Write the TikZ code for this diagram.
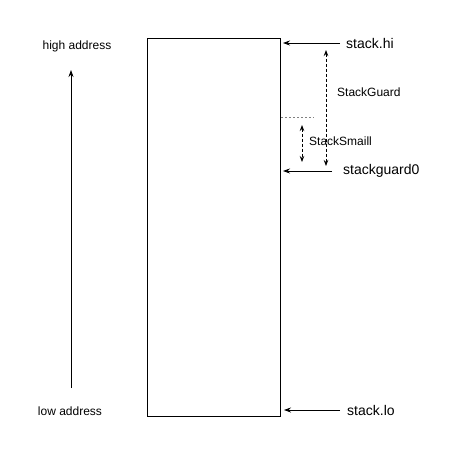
\documentclass[tikz,border=0pt]{standalone}
\usepackage{fontspec}
\setmainfont{Liberation Sans}
\usetikzlibrary{arrows.meta,positioning,calc}

\tikzset{
    ptr/.style={-{Stealth[length=7pt,width=5pt]}, line width=0.8pt},
    guard/.style={{Stealth[length=6pt,width=4.5pt]}-{Stealth[length=6pt,width=4.5pt]}, dashed, line width=0.8pt, dash pattern=on 3pt off 2pt},
    lbl/.style={inner sep=0pt, anchor=west, font=\fontsize{14}{16}\selectfont},
    small/.style={inner sep=0pt, font=\fontsize{12}{14}\selectfont}
}

\begin{document}
\begin{tikzpicture}[x=1pt, y=-1pt]
    \useasboundingbox (0,0) rectangle (450,463);

    % Stack
    \node[draw, line width=0.8pt, minimum width=133pt, minimum height=378pt, inner sep=0pt] (stack) at (213.5,227) {};

    % Labels on the right
    \node[lbl] (hi) at (346,43) {stack.hi};
    \node[lbl] (sg0) at (343,171) {stackguard0};
    \node[lbl] (lo) at (347,410) {stack.lo};

    \coordinate (hiend) at (283,43);
    \coordinate (sg0end) at (283,171);
    \coordinate (loend) at (284,410);

    \draw[ptr] ($(hi.west)+(-6,0)$) -- (hiend);
    \draw[ptr] ($(sg0.west)+(-11,0)$) -- (sg0end);
    \draw[ptr] ($(lo.west)+(-7,0)$) -- (loend);

    % Guard regions
    \coordinate (limit) at (281,117);
    \draw[gray, dashed, dash pattern=on 2pt off 2pt, line width=0.6pt] (limit) -- ++(33,0);
    \draw[guard] (326,50) -- (326,166);
    \node[small, anchor=west] (guard) at (337,92) {StackGuard};
    \draw[guard] (302,125) -- (302,162);
    \node[small, anchor=west] (small) at (309,141) {StackSmaill};

    % Address direction
    \node[small] (high) at (77,46) {high address};
    \node[small] (low) at (70,411) {low address};
    \draw[ptr] (71,388) -- (71,70);
\end{tikzpicture}
\end{document}
